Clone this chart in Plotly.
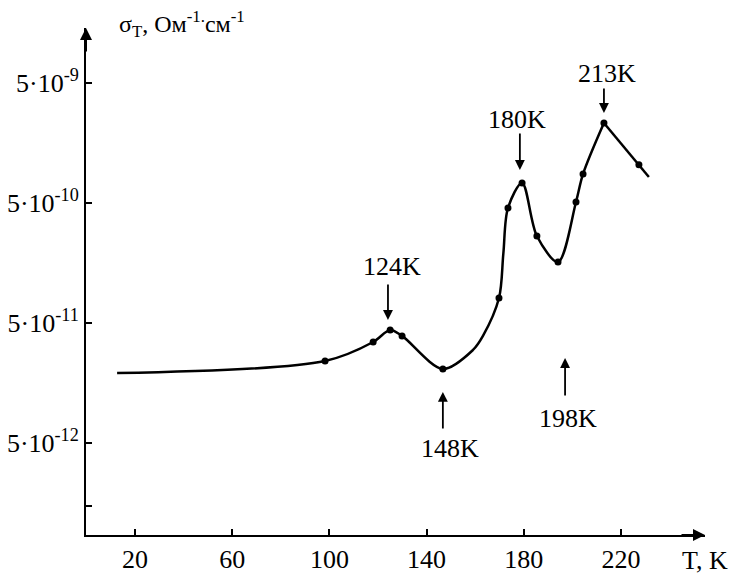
import plotly.graph_objects as go

# Curve, temperature on the drawn axis, conductivity
curve_T = [12.6, 98.2, 118, 125, 129.9, 146.7, 159.1, 163.2, 169.8, 171.6, 173.5, 179.3, 185.4, 194.1, 201.5, 204.4, 213]
curve_sigma = [1.91e-11, 2.41e-11, 3.47e-11, 4.37e-11, 3.9e-11, 2.07e-11, 2.98e-11, 3.9e-11, 8.07e-11,
               1.9e-10, 4.54e-10, 7.35e-10, 2.65e-10, 1.61e-10, 5.09e-10, 8.73e-10, 2.32e-9]
tail_T = [213, 227.4, 231.5]
tail_sigma = [2.32e-9, 1.04e-9, 8.24e-10]

# measured points (dots)
point_T = [98.2, 118, 125, 129.9, 146.7, 169.8, 173.5, 179.3, 185.4, 194.1, 201.5, 204.4, 213, 227.4]
point_sigma = [2.41e-11, 3.47e-11, 4.37e-11, 3.9e-11, 2.07e-11, 8.07e-11, 4.54e-10, 7.35e-10,
               2.65e-10, 1.61e-10, 5.09e-10, 8.73e-10, 2.32e-9, 1.04e-9]

x_ticks = [20, 60, 100, 140, 180, 220]
y_ticks = [5e-9, 5e-10, 5e-11, 5e-12, 1.5e-12]
y_ticktext = ["5·10<sup>-9</sup>", "5·10<sup>-10</sup>", "5·10<sup>-11</sup>", "5·10<sup>-12</sup>", ""]

# annotations: label, text position (T, log10 sigma), arrow head (T, log10 sigma), arrow tail offset px
labels = ["124K", "180K", "213K", "148K", "198K"]
label_T = [125.8, 177.2, 214.2, 149.6, 198.2]
label_logy = [-9.834, -8.609, -8.218, -11.343, -11.093]
head_T = [124.1, 178.4, 213, 146.7, 197]
head_logy = [-10.276, -9.026, -8.551, -10.876, -10.593]
tail_dy = [-37, -38, -26, 38, 39]

FONT = "Liberation Serif"
W, H = 734, 580
ML, MR, MT, MB = 86, 29, 28, 45
PW, PH = W - ML - MR, H - MT - MB

fig = go.Figure()
fig.add_trace(go.Scatter(x=curve_T, y=curve_sigma, mode="lines",
                         line=dict(color="black", width=2.5, shape="spline", smoothing=0.9),
                         hoverinfo="skip"))
fig.add_trace(go.Scatter(x=tail_T, y=tail_sigma, mode="lines",
                         line=dict(color="black", width=2.5), hoverinfo="skip"))
fig.add_trace(go.Scatter(x=point_T, y=point_sigma, mode="markers",
                         marker=dict(color="black", size=7)))

annotations = []
for t, tx, ty, hx, hy, dy in zip(labels, label_T, label_logy, head_T, head_logy, tail_dy):
    annotations.append(dict(x=tx, y=ty, xref="x", yref="y", text=t, showarrow=False,
                            font=dict(family=FONT, size=26, color="black")))
    annotations.append(dict(x=hx, y=hy, xref="x", yref="y", text="", showarrow=True,
                            ax=0, ay=dy, arrowhead=2, arrowsize=1.1, arrowwidth=1.8,
                            arrowcolor="black"))

# axis arrows
annotations.append(dict(x=0, y=1, xref="paper", yref="paper", text="", showarrow=True,
                        ax=0, ay=25, arrowhead=2, arrowsize=1.2, arrowwidth=2, arrowcolor="black"))
annotations.append(dict(x=1, y=0, xref="paper", yref="paper", text="", showarrow=True,
                        ax=-25, ay=0, arrowhead=2, arrowsize=1.2, arrowwidth=2, arrowcolor="black"))
# axis titles
annotations.append(dict(x=(117 - ML) / PW, y=1 + 4 / PH, xref="paper", yref="paper",
                        text="σ<sub>T</sub>, Ом<sup>-1.</sup>см<sup>-1</sup>",
                        xanchor="left", yanchor="middle", showarrow=False,
                        font=dict(family=FONT, size=24, color="black")))
annotations.append(dict(x=(680 - ML) / PW, y=-(560 - (H - MB)) / PH, xref="paper", yref="paper",
                        text="T, K", xanchor="left", yanchor="middle", showarrow=False,
                        font=dict(family=FONT, size=26, color="black")))

fig.update_layout(
    width=W, height=H,
    margin=dict(l=ML, r=MR, t=MT, b=MB),
    paper_bgcolor="white", plot_bgcolor="white",
    showlegend=False,
    font=dict(family=FONT, size=26, color="black"),
    annotations=annotations,
    xaxis=dict(range=[-0.2, 254.6], tickvals=x_ticks, ticks="inside", ticklen=6,
               tickwidth=1.5, tickcolor="black", showline=True, linecolor="black",
               linewidth=2, showgrid=False, zeroline=False, automargin=False,
               tickfont=dict(family=FONT, size=26, color="black")),
    yaxis=dict(type="log", range=[-12.068, -7.843], tickvals=y_ticks, ticktext=y_ticktext,
               ticks="inside", ticklen=6, tickwidth=1.5, tickcolor="black",
               showline=True, linecolor="black", linewidth=2, showgrid=False,
               zeroline=False, automargin=False, ticklabelstandoff=0,
               tickfont=dict(family=FONT, size=26, color="black")),
)

fig.write_html("out.html", config={"displayModeBar": False},
               post_script="document.body.style.margin='0';document.body.style.padding='0';")
